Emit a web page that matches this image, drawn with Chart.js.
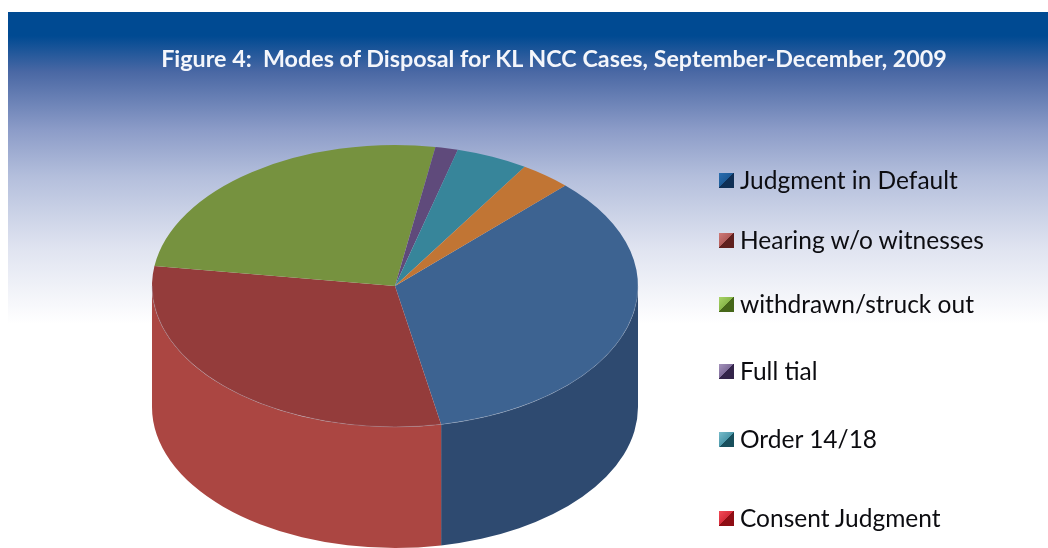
<!DOCTYPE html>
<html>
<head>
<meta charset="utf-8">
<script src="https://cdn.jsdelivr.net/npm/chart.js@4"></script>
<style>
  html, body { margin: 0; padding: 0; background: #fff; overflow: hidden; }
  #page { position: relative; width: 1048px; height: 548px; overflow: hidden; }
  #bg {
    position: absolute; left: 8px; top: 12px; width: 1040px; height: 312px;
    background: linear-gradient(to bottom, #004a92 0, #004a92 24px, #4a68a4 60px, #8c9cc8 118px, #b4bfdc 165px, #dfe3f0 235px, #ffffff 312px);
  }
  #pie { position: absolute; left: 0; top: 0; }
  #title {
    position: absolute; left: 0; top: 44px; width: 1108px; text-align: center;
    font: bold 23.3px Lato, sans-serif; color: #f4f6fb; white-space: nowrap;
  }
  .item {
    position: absolute; left: 719px; height: 30px; white-space: nowrap;
    font: 24.5px/30px Lato, sans-serif; color: #0c0c10;
  }
  .item i { position: absolute; left: 0; top: 8px; width: 15px; height: 15px; }
  .item span { position: absolute; left: 21px; top: 0; }
</style>
</head>
<body>
<div id="page">
  <div id="bg"></div>
  <canvas id="pie" width="1048" height="548"></canvas>
  <div id="title">Figure 4:&nbsp; Modes of Disposal for KL NCC Cases, September-December, 2009</div>
  <div id="legend"></div>
</div>
<script>
const categories = ["Judgment in Default", "Hearing w/o witnesses", "withdrawn/struck out", "Full tial", "Order 14/18", "Consent Judgment"];
const shares = [34.6, 30.3, 25.4, 1.5, 4.8, 3.4];
const topColors = ["#3d6391", "#943c3b", "#76923f", "#5f4a7b", "#37859a", "#c17534"];
const sideColors = ["#2e4a70", "#ab4642", "#5c7230", "#4a3a60", "#2a6778", "#96592a"];
const swatchLight = ["#2a6eb0", "#cf7a78", "#a9d468", "#a594bc", "#78bccb", "#f44c58"];
const swatchMid = ["#1d5a96", "#b05a58", "#86b548", "#7d6a98", "#4c98aa", "#d42a38"];
const swatchDark = ["#0f2f55", "#5f201e", "#456619", "#33244a", "#184f5c", "#8e0d14"];
const legendTops = [165, 225, 289, 356, 424, 503];

const squash = 0.58;
const depth = 121;

// pie is drawn flat by chart.js, this plugin squashes it and adds the rim
const tiltPlugin = {
  id: "tilt",
  beforeDatasetsDraw(chart) {
    const ctx = chart.ctx;
    const arcs = chart.getDatasetMeta(0).data;
    const cx = arcs[0].x, cy = arcs[0].y, r = arcs[0].outerRadius;

    arcs.forEach((arc, i) => {
      for (const shift of [0, Math.PI * 2]) {
        const a = Math.max(arc.startAngle + shift, 0);
        const b = Math.min(arc.endAngle + shift, Math.PI);
        if (b <= a) continue;
        ctx.beginPath();
        ctx.ellipse(cx, cy, r, r * squash, 0, a, b);
        ctx.ellipse(cx, cy + depth, r, r * squash, 0, b, a, true);
        ctx.closePath();
        ctx.fillStyle = sideColors[i];
        ctx.fill();
      }
    });

    ctx.save();
    ctx.translate(cx, cy);
    ctx.scale(1, squash);
    ctx.translate(-cx, -cy);
  },
  afterDatasetsDraw(chart) {
    const ctx = chart.ctx;
    ctx.restore();

    // faint highlight along the front edge of the top face
    const arc = chart.getDatasetMeta(0).data[0];
    ctx.beginPath();
    ctx.ellipse(arc.x, arc.y, arc.outerRadius, arc.outerRadius * squash, 0, 0, Math.PI);
    ctx.strokeStyle = "rgba(170,180,200,0.3)";
    ctx.lineWidth = 1;
    ctx.stroke();
  }
};

new Chart(document.getElementById("pie"), {
  type: "pie",
  data: {
    labels: categories,
    datasets: [{
      data: shares,
      backgroundColor: topColors,
      borderWidth: 0
    }]
  },
  options: {
    responsive: false,
    animation: false,
    rotation: 44.5,
    events: [],
    layout: { padding: { left: 152, right: 410, top: 43, bottom: 19 } },
    plugins: {
      legend: { display: false },
      tooltip: { enabled: false }
    }
  },
  plugins: [tiltPlugin]
});

// legend is plain html so the rows can sit at the uneven spacing of the original
const legend = document.getElementById("legend");
categories.forEach((name, i) => {
  const row = document.createElement("div");
  row.className = "item";
  row.style.top = legendTops[i] + "px";
  const box = document.createElement("i");
  box.style.background = `linear-gradient(135deg, ${swatchLight[i]} 0, ${swatchMid[i]} 50%, ${swatchDark[i]} 50%, ${swatchDark[i]} 100%)`;
  const label = document.createElement("span");
  label.textContent = name;
  row.appendChild(box);
  row.appendChild(label);
  legend.appendChild(row);
});
</script>
</body>
</html>
